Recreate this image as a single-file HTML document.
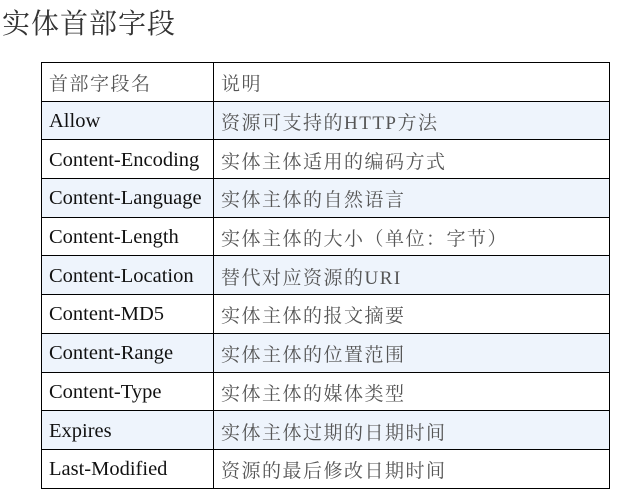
<!DOCTYPE html>
<html><head><meta charset="utf-8"><style>
html,body{margin:0;padding:0;background:#fff;width:633px;height:499px;overflow:hidden}
.t{position:absolute;left:2px;top:2px;font:28px "Liberation Serif","Noto Serif CJK SC",serif;color:#333;letter-spacing:1px}
table{position:absolute;left:41px;top:62px;border-collapse:collapse;width:569px;table-layout:fixed}
td{border:1.5px solid #000;height:38.7px;padding:2px 0 0 7px;box-sizing:border-box;font:20.5px "Liberation Serif","Noto Serif CJK SC",serif;color:#111;white-space:nowrap;overflow:hidden}
td.c{color:#555;font-size:19px;letter-spacing:1.5px}
tr.b td{background:#eef4fc}
col.a{width:172px}
</style></head><body>
<div class="t">实体首部字段</div>
<table><colgroup><col class="a"><col></colgroup>
<tr><td class="c">首部字段名</td><td class="c">说明</td></tr>
<tr class="b"><td>Allow</td><td class="c">资源可支持的HTTP方法</td></tr>
<tr><td>Content-Encoding</td><td class="c">实体主体适用的编码方式</td></tr>
<tr class="b"><td>Content-Language</td><td class="c">实体主体的自然语言</td></tr>
<tr><td>Content-Length</td><td class="c">实体主体的大小（单位：字节）</td></tr>
<tr class="b"><td>Content-Location</td><td class="c">替代对应资源的URI</td></tr>
<tr><td>Content-MD5</td><td class="c">实体主体的报文摘要</td></tr>
<tr class="b"><td>Content-Range</td><td class="c">实体主体的位置范围</td></tr>
<tr><td>Content-Type</td><td class="c">实体主体的媒体类型</td></tr>
<tr class="b"><td>Expires</td><td class="c">实体主体过期的日期时间</td></tr>
<tr><td>Last-Modified</td><td class="c">资源的最后修改日期时间</td></tr>
</table>
</body></html>
